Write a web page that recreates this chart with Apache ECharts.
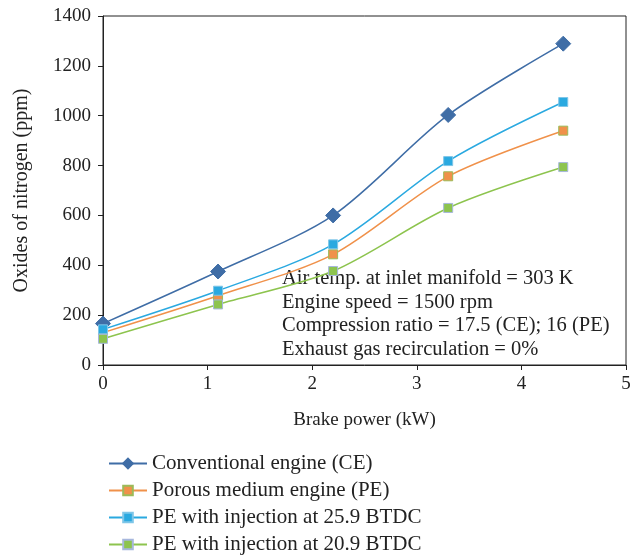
<!DOCTYPE html>
<html>
<head>
<meta charset="utf-8">
<script src="https://cdn.jsdelivr.net/npm/echarts@6/dist/echarts.min.js"></script>
<style>
  html, body { margin: 0; padding: 0; background: #fff; }
  #chart { width: 639px; height: 558px; }
</style>
</head>
<body>
<div id="chart"></div>
<script>
const brakePower = [0, 1.1, 2.2, 3.3, 4.4];
const seriesNames = [
  'Conventional engine (CE)',
  'Porous medium engine (PE)',
  'PE with injection at 25.9 BTDC',
  'PE with injection at 20.9 BTDC'
];
const ceNox = [166, 375, 600, 1003, 1289];
const peNox = [130, 278, 444, 757, 940];
const pe259Nox = [143, 298, 484, 818, 1055];
const pe209Nox = [105, 243, 377, 630, 794];
const notes = [
  'Air temp. at inlet manifold = 303 K',
  'Engine speed = 1500 rpm',
  'Compression ratio = 17.5 (CE); 16 (PE)',
  'Exhaust gas recirculation = 0%'
];

const font = 'Liberation Serif';
const pairs = vals => brakePower.map((x, i) => [x, vals[i]]);

function lineSeries(name, vals, color, symbol, size, border) {
  return {
    name: name,
    type: 'line',
    data: pairs(vals),
    smooth: 0.3,
    symbol: symbol,
    symbolSize: size,
    lineStyle: { color: color, width: 1.5 },
    itemStyle: { color: color, borderColor: border, borderWidth: 1 }
  };
}

const chart = echarts.init(document.getElementById('chart'));
chart.setOption({
  animation: false,
  textStyle: { fontFamily: font },
  grid: {
    left: 103, right: 13, top: 16, bottom: 193,
    show: true, borderColor: '#222', borderWidth: 1
  },
  xAxis: {
    type: 'value', min: 0, max: 5, interval: 1,
    name: 'Brake power (kW)', nameLocation: 'middle', nameGap: 46,
    nameTextStyle: { fontSize: 19, color: '#222', fontFamily: font },
    axisLine: { lineStyle: { color: '#222' } },
    axisTick: { show: true, length: 5, lineStyle: { color: '#222' } },
    axisLabel: { fontSize: 19, color: '#222', fontFamily: font, margin: 10 },
    splitLine: { show: false }
  },
  yAxis: {
    type: 'value', min: 0, max: 1400, interval: 200,
    name: 'Oxides of nitrogen (ppm)', nameLocation: 'middle', nameGap: 71,
    nameTextStyle: { fontSize: 20, color: '#222', fontFamily: font },
    axisLine: { show: true, lineStyle: { color: '#222' } },
    axisTick: { show: true, length: 5, lineStyle: { color: '#222' } },
    axisLabel: { fontSize: 19, color: '#222', fontFamily: font, margin: 12, formatter: v => String(v) },
    splitLine: { show: false }
  },
  legend: {
    orient: 'vertical', left: 103, top: 448, height: 110,
    itemWidth: 38, itemHeight: 12, itemGap: 6,
    textStyle: { fontSize: 21, lineHeight: 20, color: '#222', fontFamily: font },
    data: seriesNames
  },
  graphic: [{
    type: 'text', left: 282, top: 267,
    style: {
      text: notes.join('\n'),
      font: '20.5px "Liberation Serif"',
      lineHeight: 23.5,
      fill: '#222'
    }
  }],
  series: [
    lineSeries(seriesNames[0], ceNox, '#3f6da6', 'diamond', 15, '#3f6da6'),
    lineSeries(seriesNames[1], peNox, '#f0914a', 'rect', 9, '#9cbb59'),
    lineSeries(seriesNames[2], pe259Nox, '#2aa9e0', 'rect', 9, '#7fc6e8'),
    lineSeries(seriesNames[3], pe209Nox, '#8dc44e', 'rect', 9, '#a7b7dd')
  ]
});
</script>
</body>
</html>
